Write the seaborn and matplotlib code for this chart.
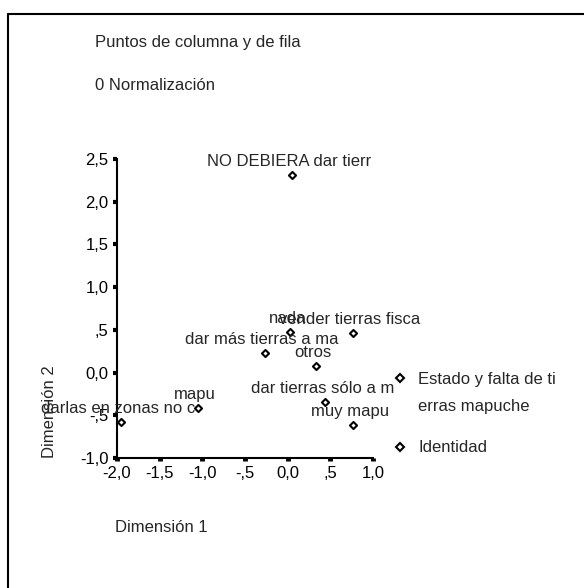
import numpy as np
import pandas as pd
import matplotlib
matplotlib.use("Agg")
import matplotlib.pyplot as plt
from matplotlib.lines import Line2D
import seaborn as sns

# Datos
tierra_labels = ["NO DEBIERA dar tierr", "vender tierras fisca", "dar más tierras a ma",
                 "otros", "dar tierras sólo a m", "darlas en zonas no c"]
tierra_x = [0.05, 0.76, -0.27, 0.33, 0.44, -1.95]
tierra_y = [2.31, 0.46, 0.23, 0.08, -0.34, -0.575]

ident_labels = ["nada", "mapu", "muy mapu"]
ident_x = [0.03, -1.05, 0.76]
ident_y = [0.48, -0.42, -0.61]

series_names = ["Estado y falta de ti\nerras mapuche", "Identidad"]

x_ticks = [-2.0, -1.5, -1.0, -0.5, 0.0, 0.5, 1.0]
x_tick_labels = ["-2,0", "-1,5", "-1,0", "-,5", "0,0", ",5", "1,0"]
y_ticks = [-1.0, -0.5, 0.0, 0.5, 1.0, 1.5, 2.0, 2.5]
y_tick_labels = ["-1,0", "-,5", "0,0", ",5", "1,0", "1,5", "2,0", "2,5"]

df = pd.DataFrame({
    "x": tierra_x + ident_x,
    "y": tierra_y + ident_y,
    "label": tierra_labels + ident_labels,
    "serie": [series_names[0]] * len(tierra_x) + [series_names[1]] * len(ident_x),
})

sns.set_style("ticks")
plt.rcParams["font.family"] = ["Liberation Sans", "DejaVu Sans"]
FS = 12

fig = plt.figure(figsize=(5.84, 5.88), dpi=100)
ax = fig.add_axes([117 / 584, 1 - 458 / 588, 256 / 584, 299 / 588])

sns.scatterplot(data=df, x="x", y="y", marker="D", s=13, facecolor="white",
                edgecolor="black", linewidth=1.5, legend=False, ax=ax, clip_on=False, zorder=3)

for _, row in df.iterrows():
    ax.annotate(row["label"], (row["x"], row["y"]), textcoords="offset points",
                xytext=(-2, 6.5), ha="center", va="baseline", fontsize=FS,
                annotation_clip=False)

ax.set_xlim(-2.0, 1.0)
ax.set_ylim(-1.0, 2.5)
ax.set_xticks(x_ticks)
ax.set_xticklabels(x_tick_labels)
ax.set_yticks(y_ticks)
ax.set_yticklabels(y_tick_labels)
ax.set_xlabel("")
ax.set_ylabel("")
sns.despine(ax=ax)
for s in ["left", "bottom"]:
    ax.spines[s].set_linewidth(1.5)
    ax.spines[s].set_color("black")
ax.tick_params(axis="y", direction="out", length=3, width=3, pad=3, labelsize=FS, colors="black")
ax.tick_params(axis="x", direction="out", length=2.5, width=3.5, pad=3, labelsize=FS, colors="black")

# leyenda
mk = dict(marker="D", markersize=3.6, markerfacecolor="white", markeredgecolor="black",
          markeredgewidth=1.5, linestyle="none")
h1 = Line2D([], [], **mk)
blank = Line2D([], [], linestyle="none")
leg1 = ax.legend([h1, blank], series_names[0].split("\n"), loc="center left",
                 bbox_to_anchor=(392 / 584, 1 - 393 / 588), bbox_transform=fig.transFigure,
                 frameon=False, fontsize=FS, handlelength=1.0, handletextpad=0.56,
                 labelspacing=0.72, borderpad=0, borderaxespad=0)
ax.add_artist(leg1)
ax.legend([Line2D([], [], **mk)], [series_names[1]], loc="center left",
          bbox_to_anchor=(392 / 584, 1 - 448 / 588), bbox_transform=fig.transFigure,
          frameon=False, fontsize=FS, handlelength=1.0, handletextpad=0.56,
          borderpad=0, borderaxespad=0)

# textos
fig.text(95 / 584, 1 - 42 / 588, "Puntos de columna y de fila", fontsize=FS, va="center")
fig.text(95 / 584, 1 - 85 / 588, "0 Normalización", fontsize=FS, va="center")
fig.text(115 / 584, 1 - 528 / 588, "Dimensión 1", fontsize=FS, va="center")
fig.text(50 / 584, 1 - 458 / 588, "Dimensión 2", fontsize=FS, rotation=90,
         ha="center", va="bottom")

# marco
fig.add_artist(Line2D([7.5 / 584, 1], [1 - 13.5 / 588, 1 - 13.5 / 588],
                      transform=fig.transFigure, color="black", lw=1.5))
fig.add_artist(Line2D([7.5 / 584, 7.5 / 584], [0, 1 - 13.5 / 588],
                      transform=fig.transFigure, color="black", lw=1.5))

fig.savefig("out.png", dpi=100)
